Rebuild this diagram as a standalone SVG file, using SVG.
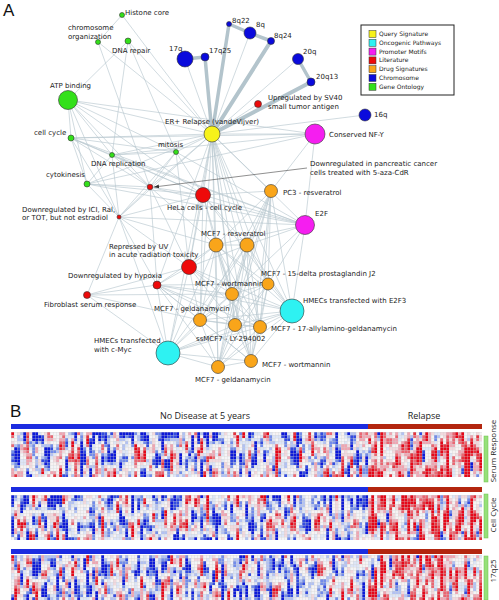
<svg xmlns="http://www.w3.org/2000/svg" width="499" height="600" viewBox="0 0 499 600">
<style>
.lbl{font-family:"DejaVu Sans",Verdana,sans-serif;font-size:7px;fill:#222}
.leg{font-family:"DejaVu Sans",Verdana,sans-serif;font-size:6px;fill:#222}
.hdr{font-family:"Open Sans","Liberation Sans",sans-serif;font-size:9px;fill:#222}
.rot{font-family:"Open Sans","Liberation Sans",sans-serif;font-size:8px;fill:#222}
.pan{font-family:"Liberation Sans",Arial,sans-serif;font-size:17px;fill:#111}
.n{stroke:#333;stroke-width:0.6}
.e line{stroke:#b8c8cf;stroke-width:0.65}
.t line{stroke:#b3c4cc;stroke-width:3.5;stroke-linecap:round}
.y{fill:#f7f21a}.c{fill:#2ef2f2}.m{fill:#f51ef0}.r{fill:#ee0a0a}.o{fill:#f9a51a}.b{fill:#0a0adc}.g{fill:#33e01a}
</style>
<defs>
<marker id="ah" markerWidth="6" markerHeight="6" refX="5" refY="3" orient="auto" markerUnits="userSpaceOnUse"><path d="M0 1L5 3L0 5z" fill="#333"/></marker>
<filter id="hmA" filterUnits="userSpaceOnUse" x="11" y="432" width="357" height="168" color-interpolation-filters="sRGB">
<feTurbulence type="fractalNoise" baseFrequency="0.2 0.045" numOctaves="3" seed="7" result="n"/>
<feColorMatrix in="n" type="matrix" values="1.4 0 0 0 -0.25 1.4 0 0 0 -0.25 1.4 0 0 0 -0.25 0 0 0 0 1" result="gq"/>
<feComponentTransfer in="gq" result="col">
<feFuncR type="discrete" tableValues="0.05 0.05 0.05 0.05 0.05 0.2 0.45 0.7 0.87 0.96 0.97 0.95 0.94 0.92 0.9 0.9 0.9 0.9 0.9 0.9"/>
<feFuncG type="discrete" tableValues="0.1 0.1 0.1 0.1 0.1 0.3 0.55 0.76 0.9 0.96 0.95 0.85 0.65 0.4 0.2 0.03 0.03 0.03 0.03 0.03"/>
<feFuncB type="discrete" tableValues="0.85 0.85 0.85 0.85 0.85 0.88 0.92 0.95 0.97 0.97 0.95 0.87 0.7 0.45 0.25 0.1 0.1 0.1 0.1 0.1"/>
</feComponentTransfer>
<feFlood x="12" y="433" width="1" height="1" flood-color="#000" result="f"/>
<feComposite in="f" in2="f" operator="over" x="11" y="432" width="3" height="3" result="cell"/>
<feTile in="cell" result="dots"/>
<feComposite in="col" in2="dots" operator="in" result="s"/>
<feMorphology in="s" operator="dilate" radius="1"/>
</filter>
<filter id="hmB" filterUnits="userSpaceOnUse" x="368" y="432" width="114" height="168" color-interpolation-filters="sRGB">
<feTurbulence type="fractalNoise" baseFrequency="0.2 0.045" numOctaves="3" seed="19" result="n"/>
<feColorMatrix in="n" type="matrix" values="1.4 0 0 0 -0.08 1.4 0 0 0 -0.08 1.4 0 0 0 -0.08 0 0 0 0 1" result="gq"/>
<feComponentTransfer in="gq" result="col">
<feFuncR type="discrete" tableValues="0.05 0.05 0.05 0.05 0.05 0.2 0.45 0.7 0.87 0.96 0.97 0.95 0.94 0.92 0.9 0.9 0.9 0.9 0.9 0.9"/>
<feFuncG type="discrete" tableValues="0.1 0.1 0.1 0.1 0.1 0.3 0.55 0.76 0.9 0.96 0.95 0.85 0.65 0.4 0.2 0.03 0.03 0.03 0.03 0.03"/>
<feFuncB type="discrete" tableValues="0.85 0.85 0.85 0.85 0.85 0.88 0.92 0.95 0.97 0.97 0.95 0.87 0.7 0.45 0.25 0.1 0.1 0.1 0.1 0.1"/>
</feComponentTransfer>
<feFlood x="369" y="433" width="1" height="1" flood-color="#000" result="f"/>
<feComposite in="f" in2="f" operator="over" x="368" y="432" width="3" height="3" result="cell"/>
<feTile in="cell" result="dots"/>
<feComposite in="col" in2="dots" operator="in" result="s"/>
<feMorphology in="s" operator="dilate" radius="1"/>
</filter>
<pattern id="grid" patternUnits="userSpaceOnUse" x="11" y="432" width="3" height="3">
<path d="M0 0.25H3M0.25 0V3" stroke="#cfcfcf" stroke-width="0.5" fill="none" opacity="0.8"/>
</pattern>
</defs>
<rect width="499" height="600" fill="#fff"/>
<text class="pan" x="3" y="16">A</text>
<text class="pan" x="10" y="417">B</text>

<g id="connectors">
<g class="e">
<line x1="212" y1="134" x2="185" y2="59"/><line x1="212" y1="134" x2="250" y2="33"/><line x1="212" y1="134" x2="298" y2="59"/>
<line x1="212" y1="134" x2="365" y2="115"/><line x1="212" y1="134" x2="315" y2="134"/><line x1="212" y1="134" x2="258" y2="104"/>
<line x1="212" y1="134" x2="122" y2="15"/><line x1="212" y1="134" x2="128" y2="41"/><line x1="212" y1="134" x2="98" y2="42"/>
<line x1="212" y1="134" x2="68" y2="100"/><line x1="212" y1="134" x2="71" y2="138"/><line x1="212" y1="134" x2="176" y2="152"/>
<line x1="212" y1="134" x2="112" y2="155"/><line x1="212" y1="134" x2="87" y2="184"/><line x1="212" y1="134" x2="150" y2="187"/>
<line x1="212" y1="134" x2="119" y2="217"/><line x1="212" y1="134" x2="203" y2="195"/><line x1="212" y1="134" x2="271" y2="191"/>
<line x1="212" y1="134" x2="305" y2="225"/><line x1="212" y1="134" x2="216" y2="245"/><line x1="212" y1="134" x2="247" y2="245"/>
<line x1="212" y1="134" x2="189" y2="267"/><line x1="212" y1="134" x2="157" y2="285"/><line x1="212" y1="134" x2="232" y2="294"/>
<line x1="212" y1="134" x2="268" y2="284"/><line x1="212" y1="134" x2="292" y2="311"/><line x1="212" y1="134" x2="200" y2="320"/>
<line x1="212" y1="134" x2="235" y2="325"/><line x1="212" y1="134" x2="260" y2="327"/><line x1="212" y1="134" x2="168" y2="353"/>
<line x1="212" y1="134" x2="251" y2="361"/><line x1="212" y1="134" x2="218" y2="367"/>
<line x1="128" y1="41" x2="68" y2="100"/><line x1="128" y1="41" x2="112" y2="155"/><line x1="128" y1="41" x2="176" y2="152"/>
<line x1="98" y1="42" x2="150" y2="187"/><line x1="122" y1="15" x2="98" y2="42"/>
<line x1="68" y1="100" x2="71" y2="138"/><line x1="68" y1="100" x2="112" y2="155"/><line x1="68" y1="100" x2="176" y2="152"/>
<line x1="68" y1="100" x2="87" y2="184"/><line x1="68" y1="100" x2="150" y2="187"/><line x1="68" y1="100" x2="203" y2="195"/>
<line x1="68" y1="100" x2="119" y2="217"/><line x1="68" y1="100" x2="315" y2="134"/>
<line x1="71" y1="138" x2="176" y2="152"/><line x1="71" y1="138" x2="112" y2="155"/><line x1="71" y1="138" x2="87" y2="184"/>
<line x1="71" y1="138" x2="119" y2="217"/><line x1="71" y1="138" x2="150" y2="187"/><line x1="71" y1="138" x2="203" y2="195"/>
<line x1="71" y1="138" x2="315" y2="134"/><line x1="71" y1="138" x2="305" y2="225"/>
<line x1="176" y1="152" x2="112" y2="155"/><line x1="176" y1="152" x2="150" y2="187"/><line x1="176" y1="152" x2="203" y2="195"/>
<line x1="176" y1="152" x2="119" y2="217"/><line x1="176" y1="152" x2="189" y2="267"/><line x1="176" y1="152" x2="305" y2="225"/>
<line x1="112" y1="155" x2="87" y2="184"/><line x1="112" y1="155" x2="150" y2="187"/><line x1="112" y1="155" x2="203" y2="195"/>
<line x1="112" y1="155" x2="119" y2="217"/><line x1="112" y1="155" x2="305" y2="225"/><line x1="112" y1="155" x2="315" y2="134"/>
<line x1="87" y1="184" x2="150" y2="187"/><line x1="87" y1="184" x2="203" y2="195"/><line x1="87" y1="184" x2="305" y2="225"/>
<line x1="87" y1="184" x2="119" y2="217"/><line x1="87" y1="184" x2="315" y2="134"/>
<line x1="150" y1="187" x2="203" y2="195"/><line x1="150" y1="187" x2="119" y2="217"/><line x1="150" y1="187" x2="189" y2="267"/>
<line x1="150" y1="187" x2="157" y2="285"/><line x1="150" y1="187" x2="305" y2="225"/><line x1="150" y1="187" x2="216" y2="245"/>
<line x1="119" y1="217" x2="203" y2="195"/><line x1="119" y1="217" x2="305" y2="225"/><line x1="119" y1="217" x2="157" y2="285"/>
<line x1="119" y1="217" x2="87" y2="295"/><line x1="119" y1="217" x2="189" y2="267"/><line x1="119" y1="217" x2="216" y2="245"/>
<line x1="119" y1="217" x2="168" y2="353"/>
<line x1="203" y1="195" x2="271" y2="191"/><line x1="203" y1="195" x2="305" y2="225"/><line x1="203" y1="195" x2="216" y2="245"/>
<line x1="203" y1="195" x2="247" y2="245"/><line x1="203" y1="195" x2="189" y2="267"/><line x1="203" y1="195" x2="232" y2="294"/>
<line x1="203" y1="195" x2="292" y2="311"/><line x1="203" y1="195" x2="200" y2="320"/>
<line x1="271" y1="191" x2="216" y2="245"/><line x1="271" y1="191" x2="247" y2="245"/><line x1="271" y1="191" x2="232" y2="294"/>
<line x1="271" y1="191" x2="235" y2="325"/><line x1="271" y1="191" x2="260" y2="327"/><line x1="271" y1="191" x2="200" y2="320"/>
<line x1="271" y1="191" x2="218" y2="367"/><line x1="271" y1="191" x2="251" y2="361"/><line x1="271" y1="191" x2="292" y2="311"/>
<line x1="271" y1="191" x2="268" y2="284"/><line x1="271" y1="191" x2="315" y2="134"/>
<line x1="305" y1="225" x2="247" y2="245"/><line x1="305" y1="225" x2="268" y2="284"/><line x1="305" y1="225" x2="292" y2="311"/>
<line x1="305" y1="225" x2="232" y2="294"/><line x1="305" y1="225" x2="216" y2="245"/><line x1="305" y1="225" x2="315" y2="134"/>
<line x1="216" y1="245" x2="247" y2="245"/><line x1="216" y1="245" x2="189" y2="267"/><line x1="216" y1="245" x2="157" y2="285"/>
<line x1="216" y1="245" x2="232" y2="294"/><line x1="216" y1="245" x2="200" y2="320"/><line x1="216" y1="245" x2="235" y2="325"/>
<line x1="216" y1="245" x2="260" y2="327"/><line x1="216" y1="245" x2="251" y2="361"/><line x1="216" y1="245" x2="218" y2="367"/>
<line x1="216" y1="245" x2="268" y2="284"/><line x1="216" y1="245" x2="292" y2="311"/><line x1="216" y1="245" x2="168" y2="353"/>
<line x1="247" y1="245" x2="232" y2="294"/><line x1="247" y1="245" x2="268" y2="284"/><line x1="247" y1="245" x2="292" y2="311"/>
<line x1="247" y1="245" x2="235" y2="325"/><line x1="247" y1="245" x2="260" y2="327"/><line x1="247" y1="245" x2="251" y2="361"/>
<line x1="247" y1="245" x2="218" y2="367"/><line x1="247" y1="245" x2="200" y2="320"/><line x1="247" y1="245" x2="168" y2="353"/>
<line x1="247" y1="245" x2="189" y2="267"/>
<line x1="189" y1="267" x2="157" y2="285"/><line x1="189" y1="267" x2="87" y2="295"/><line x1="189" y1="267" x2="232" y2="294"/>
<line x1="189" y1="267" x2="200" y2="320"/><line x1="189" y1="267" x2="168" y2="353"/><line x1="189" y1="267" x2="235" y2="325"/>
<line x1="189" y1="267" x2="292" y2="311"/><line x1="189" y1="267" x2="260" y2="327"/>
<line x1="157" y1="285" x2="87" y2="295"/><line x1="157" y1="285" x2="232" y2="294"/><line x1="157" y1="285" x2="200" y2="320"/>
<line x1="157" y1="285" x2="168" y2="353"/><line x1="157" y1="285" x2="235" y2="325"/><line x1="157" y1="285" x2="260" y2="327"/>
<line x1="157" y1="285" x2="251" y2="361"/><line x1="157" y1="285" x2="218" y2="367"/><line x1="157" y1="285" x2="292" y2="311"/>
<line x1="157" y1="285" x2="268" y2="284"/>
<line x1="87" y1="295" x2="232" y2="294"/><line x1="87" y1="295" x2="168" y2="353"/><line x1="87" y1="295" x2="200" y2="320"/>
<line x1="232" y1="294" x2="268" y2="284"/><line x1="232" y1="294" x2="292" y2="311"/><line x1="232" y1="294" x2="200" y2="320"/>
<line x1="232" y1="294" x2="235" y2="325"/><line x1="232" y1="294" x2="260" y2="327"/><line x1="232" y1="294" x2="251" y2="361"/>
<line x1="232" y1="294" x2="218" y2="367"/><line x1="232" y1="294" x2="168" y2="353"/>
<line x1="268" y1="284" x2="292" y2="311"/><line x1="268" y1="284" x2="235" y2="325"/><line x1="268" y1="284" x2="260" y2="327"/>
<line x1="268" y1="284" x2="251" y2="361"/><line x1="268" y1="284" x2="218" y2="367"/><line x1="268" y1="284" x2="200" y2="320"/>
<line x1="292" y1="311" x2="235" y2="325"/><line x1="292" y1="311" x2="260" y2="327"/><line x1="292" y1="311" x2="251" y2="361"/>
<line x1="292" y1="311" x2="218" y2="367"/><line x1="292" y1="311" x2="200" y2="320"/><line x1="292" y1="311" x2="168" y2="353"/>
<line x1="200" y1="320" x2="235" y2="325"/><line x1="200" y1="320" x2="260" y2="327"/><line x1="200" y1="320" x2="251" y2="361"/>
<line x1="200" y1="320" x2="218" y2="367"/><line x1="200" y1="320" x2="168" y2="353"/>
<line x1="235" y1="325" x2="260" y2="327"/><line x1="235" y1="325" x2="251" y2="361"/><line x1="235" y1="325" x2="218" y2="367"/>
<line x1="235" y1="325" x2="168" y2="353"/>
<line x1="260" y1="327" x2="251" y2="361"/><line x1="260" y1="327" x2="218" y2="367"/><line x1="260" y1="327" x2="168" y2="353"/>
<line x1="168" y1="353" x2="251" y2="361"/><line x1="168" y1="353" x2="218" y2="367"/><line x1="251" y1="361" x2="218" y2="367"/>
</g>
<g class="t">
<line x1="212" y1="134" x2="205" y2="57"/><line x1="212" y1="134" x2="229" y2="24"/>
<line x1="212" y1="134" x2="271" y2="41" style="stroke-width:4"/><line x1="212" y1="134" x2="311" y2="82" style="stroke-width:4"/>
<line x1="185" y1="59" x2="205" y2="57"/><line x1="229" y1="24" x2="250" y2="33"/>
<line x1="250" y1="33" x2="271" y2="41"/><line x1="298" y1="59" x2="311" y2="82"/>
</g>
<line x1="307" y1="168" x2="154" y2="187" stroke="#444" stroke-width="0.6" marker-end="url(#ah)"/>
</g>

<g id="n-er"><circle class="n y" cx="212" cy="134" r="8"/><text class="lbl" x="165" y="123.5">ER+ Relapse (vandeVijver)</text></g>
<g id="n-17q"><circle class="n b" cx="185" cy="59" r="8"/><text class="lbl" x="169" y="51">17q</text></g>
<g id="n-17q25"><circle class="n b" cx="205" cy="57" r="4"/><text class="lbl" x="209" y="53.3">17q25</text></g>
<g id="n-8q22"><circle class="n b" cx="229" cy="24" r="2.5"/><text class="lbl" x="232" y="22.7">8q22</text></g>
<g id="n-8q"><circle class="n b" cx="250" cy="33" r="6"/><text class="lbl" x="256" y="26.7">8q</text></g>
<g id="n-8q24"><circle class="n b" cx="271" cy="41" r="3.5"/><text class="lbl" x="274" y="37.7">8q24</text></g>
<g id="n-20q"><circle class="n b" cx="298" cy="59" r="5.5"/><text class="lbl" x="303" y="53.7">20q</text></g>
<g id="n-20q13"><circle class="n b" cx="311" cy="82" r="4"/><text class="lbl" x="316" y="78.7">20q13</text></g>
<g id="n-16q"><circle class="n b" cx="365" cy="115" r="6"/><text class="lbl" x="374" y="116.7">16q</text></g>
<g id="n-sv40"><circle class="n r" cx="258" cy="104" r="3.5"/><text class="lbl" x="268" y="100.4">Upregulated by SV40</text><text class="lbl" x="268" y="109.4">small tumor antigen</text></g>
<g id="n-nfy"><circle class="n m" cx="315" cy="134" r="10"/><text class="lbl" x="329" y="136.7">Conserved NF-Y</text></g>
<g id="n-histone"><circle class="n g" cx="122" cy="15" r="2.5"/><text class="lbl" x="125" y="14.5">Histone core</text></g>
<g id="n-chrom"><circle class="n g" cx="98" cy="42" r="2.5"/><text class="lbl" x="68" y="30">chromosome</text><text class="lbl" x="68" y="38.7">organization</text></g>
<g id="n-dnarep"><circle class="n g" cx="128" cy="41" r="3"/><text class="lbl" x="112" y="53.3">DNA repair</text></g>
<g id="n-atp"><circle class="n g" cx="68" cy="100" r="9.5"/><text class="lbl" x="50" y="87.7">ATP binding</text></g>
<g id="n-cc"><circle class="n g" cx="71" cy="138" r="3"/><text class="lbl" x="34" y="135">cell cycle</text></g>
<g id="n-mitosis"><circle class="n g" cx="176" cy="152" r="2.5"/><text class="lbl" x="158" y="147">mitosis</text></g>
<g id="n-dnarepl"><circle class="n g" cx="112" cy="155" r="2.5"/><text class="lbl" x="91" y="166">DNA replication</text></g>
<g id="n-cyto"><circle class="n g" cx="87" cy="184" r="3"/><text class="lbl" x="46" y="176.5">cytokinesis</text></g>
<g id="n-panc"><circle class="n r" cx="150" cy="187" r="2.8"/><text class="lbl" x="310" y="166">Downregulated in pancreatic cancer</text><text class="lbl" x="310" y="175">cells treated with 5-aza-CdR</text></g>
<g id="n-ici"><circle class="n r" cx="119" cy="217" r="2"/><text class="lbl" x="22" y="211.5">Downregulated by ICI, Ral,</text><text class="lbl" x="22" y="220">or TOT, but not estradiol</text></g>
<g id="n-hela"><circle class="n r" cx="203" cy="195" r="7.5"/><text class="lbl" x="167" y="209.5">HeLa cells - cell cycle</text></g>
<g id="n-pc3"><circle class="n o" cx="271" cy="191" r="6.5"/><text class="lbl" x="283" y="194.5">PC3 - resveratrol</text></g>
<g id="n-e2f"><circle class="n m" cx="305" cy="225" r="9.5"/><text class="lbl" x="315" y="216">E2F</text></g>
<g id="n-resv"><circle class="n o" cx="216" cy="245" r="7"/><circle class="n o" cx="247" cy="245" r="7"/><text class="lbl" x="201" y="235.5">MCF7 - resveratrol</text></g>
<g id="n-uv"><circle class="n r" cx="189" cy="267" r="7.5"/><text class="lbl" x="109" y="248.5">Repressed by UV</text><text class="lbl" x="109" y="257">in acute radiation toxicity</text></g>
<g id="n-hypoxia"><circle class="n r" cx="157" cy="285" r="4"/><text class="lbl" x="68" y="278">Downregulated by hypoxia</text></g>
<g id="n-fib"><circle class="n r" cx="87" cy="295" r="3.5"/><text class="lbl" x="44" y="307">Fibroblast serum response</text></g>
<g id="n-wort1"><circle class="n o" cx="232" cy="294" r="6.5"/><text class="lbl" x="195" y="285.5">MCF7 - wortmannin</text></g>
<g id="n-15d"><circle class="n o" cx="268" cy="284" r="6"/><text class="lbl" x="261" y="275.5">MCF7 - 15-delta prostaglandin J2</text></g>
<g id="n-e2f3"><circle class="n c" cx="292" cy="311" r="12"/><text class="lbl" x="303" y="303">HMECs transfected with E2F3</text></g>
<g id="n-geld1"><circle class="n o" cx="200" cy="320" r="6.5"/><text class="lbl" x="154" y="310.5">MCF7 - geldanamycin</text></g>
<g id="n-ly"><circle class="n o" cx="235" cy="325" r="6.5"/><text class="lbl" x="196" y="341">ssMCF7 - LY-294002</text></g>
<g id="n-17aag"><circle class="n o" cx="260" cy="327" r="6.5"/><text class="lbl" x="271" y="331">MCF7 - 17-allylamino-geldanamycin</text></g>
<g id="n-myc"><circle class="n c" cx="168" cy="353" r="12"/><text class="lbl" x="94" y="342.5">HMECs transfected</text><text class="lbl" x="94" y="352">with c-Myc</text></g>
<g id="n-wort2"><circle class="n o" cx="251" cy="361" r="6.5"/><text class="lbl" x="262" y="367">MCF7 - wortmannin</text></g>
<g id="n-geld2"><circle class="n o" cx="218" cy="367" r="6.5"/><text class="lbl" x="195" y="382">MCF7 - geldanamycin</text></g>

<g id="legend">
<rect x="361" y="25" width="93" height="70" fill="#fff" stroke="#222" stroke-width="1"/>
<rect class="n y" x="369" y="30.5" width="7" height="7" style="stroke-width:0.5"/><text class="leg" x="379" y="36">Query Signature</text>
<rect class="n c" x="369" y="39.3" width="7" height="7" style="stroke-width:0.5"/><text class="leg" x="379" y="44.8">Oncogenic Pathways</text>
<rect class="n m" x="369" y="48.1" width="7" height="7" style="stroke-width:0.5"/><text class="leg" x="379" y="53.6">Promoter Motifs</text>
<rect class="n r" x="369" y="56.9" width="7" height="7" style="stroke-width:0.5"/><text class="leg" x="379" y="62.4">Literature</text>
<rect class="n o" x="369" y="65.7" width="7" height="7" style="stroke-width:0.5"/><text class="leg" x="379" y="71.2">Drug Signatures</text>
<rect class="n b" x="369" y="74.5" width="7" height="7" style="stroke-width:0.5"/><text class="leg" x="379" y="80">Chromosome</text>
<rect class="n g" x="369" y="83.3" width="7" height="7" style="stroke-width:0.5"/><text class="leg" x="379" y="88.8">Gene Ontology</text>
</g>

<g id="panel-b">
<text class="hdr" x="205" y="418.5" text-anchor="middle">No Disease at 5 years</text>
<text class="hdr" x="424" y="418.5" text-anchor="middle">Relapse</text>
<rect x="11" y="432" width="357" height="168" fill="#fff" filter="url(#hmA)"/>
<rect x="368" y="432" width="114" height="168" fill="#fff" filter="url(#hmB)"/>
<rect x="0" y="477" width="499" height="18" fill="#fff"/>
<rect x="0" y="540" width="499" height="15" fill="#fff"/>
<rect x="11" y="432" width="471" height="45" fill="url(#grid)"/>
<rect x="11" y="495" width="471" height="45" fill="url(#grid)"/>
<rect x="11" y="555" width="471" height="45" fill="url(#grid)"/>
<rect x="11" y="424" width="357" height="5" fill="#1c2ce0"/><rect x="368" y="424" width="114" height="5" fill="#b3260f"/>
<rect x="11" y="487" width="357" height="5" fill="#1c2ce0"/><rect x="368" y="487" width="114" height="5" fill="#b3260f"/>
<rect x="11" y="549" width="357" height="5" fill="#1c2ce0"/><rect x="368" y="549" width="114" height="5" fill="#b3260f"/>
<rect x="484" y="436" width="4" height="46" fill="#96e07a" stroke="#6cc24a" stroke-width="0.5"/>
<rect x="484" y="494" width="4" height="44" fill="#96e07a" stroke="#6cc24a" stroke-width="0.5"/>
<rect x="484" y="556" width="4" height="44" fill="#96e07a" stroke="#6cc24a" stroke-width="0.5"/>
<text class="rot" transform="translate(495.5,451) rotate(-90)" text-anchor="middle">Serum Response</text>
<text class="rot" transform="translate(495.5,515) rotate(-90)" text-anchor="middle">Cell Cycle</text>
<text class="rot" transform="translate(495.5,571) rotate(-90)" text-anchor="middle">17q25</text>
</g>
</svg>
